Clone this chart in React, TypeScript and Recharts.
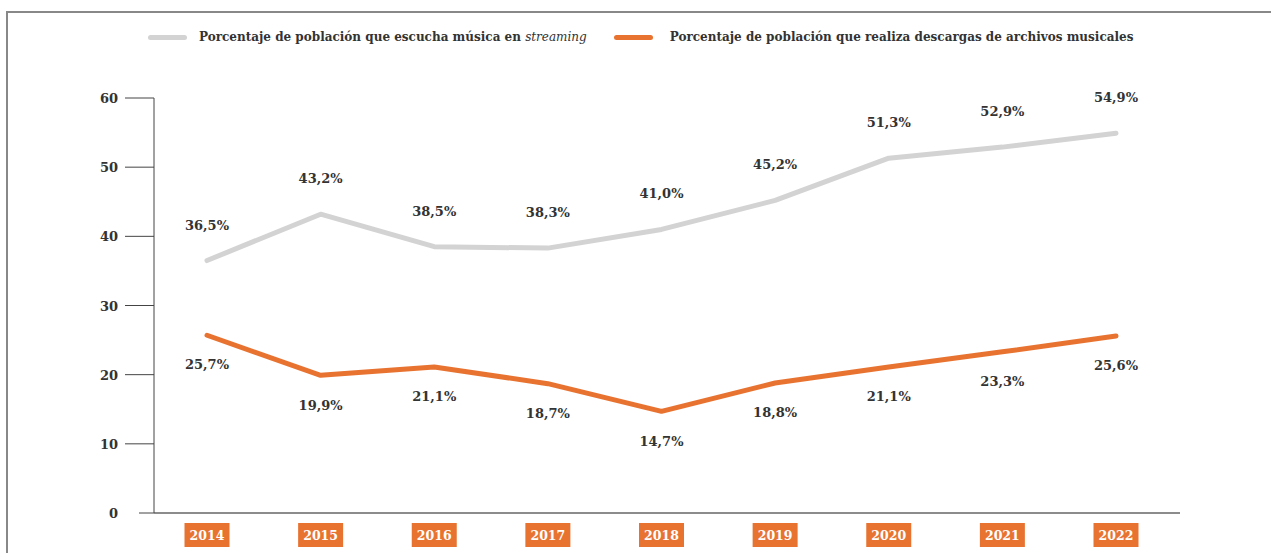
import { LineChart, Line, XAxis, YAxis, Legend, LabelList } from 'recharts';

const years = ['2014', '2015', '2016', '2017', '2018', '2019', '2020', '2021', '2022'];
const streaming = [36.5, 43.2, 38.5, 38.3, 41.0, 45.2, 51.3, 52.9, 54.9];
const descargas = [25.7, 19.9, 21.1, 18.7, 14.7, 18.8, 21.1, 23.3, 25.6];
const yTicks = [0, 10, 20, 30, 40, 50, 60];

const data = years.map((year, i) => ({ year, streaming: streaming[i], descargas: descargas[i] }));

const GRAY = '#d3d3d3';
const ORANGE = '#e87331';
const TEXT = '#333333';
const FONT = '"DejaVu Serif", serif';

const pct = (v: any) => `${Number(v).toFixed(1).replace('.', ',')}%`;

const YTick = (props: any) => {
  const { x, y, payload } = props;
  const axisX = x + 7 + 29;
  return (
    <g>
      <line x1={payload.value === 0 ? axisX - 15 : axisX - 29} x2={axisX} y1={y} y2={y} stroke="#444" strokeWidth={1} />
      <text x={x} y={y} dy={5} textAnchor="end" fontFamily={FONT} fontWeight="bold" fontSize={13} fill={TEXT}>
        {payload.value}
      </text>
    </g>
  );
};

const XTick = (props: any) => {
  const { x, y, payload } = props;
  return (
    <g>
      <rect x={x - 22.5} y={y} width={45} height={24} fill={ORANGE} />
      <text x={x} y={y + 17} textAnchor="middle" fontFamily={FONT} fontWeight="bold" fontSize={12.5} fill="#fff">
        {payload.value}
      </text>
    </g>
  );
};

const LegendContent = () => (
  <div style={{ display: 'flex', alignItems: 'center', fontFamily: FONT, fontWeight: 'bold', fontSize: 12, color: TEXT, paddingLeft: 148, height: 22, whiteSpace: 'nowrap' }}>
    <span style={{ width: 39, height: 5, borderRadius: 3, background: GRAY, marginRight: 12, flexShrink: 0 }} />
    <span>
      Porcentaje de población que escucha música en <i style={{ fontWeight: 'normal' }}>streaming</i>
    </span>
    <span style={{ width: 39, height: 5, borderRadius: 3, background: ORANGE, marginLeft: 27, marginRight: 17, flexShrink: 0 }} />
    <span>Porcentaje de población que realiza descargas de archivos musicales</span>
  </div>
);

export default function App() {
  return (
    <div style={{ position: 'absolute', left: 0, top: 0, width: 1271, height: 553, background: '#fff' }}>
      <div style={{ position: 'absolute', left: 6, top: 11, right: 0, bottom: 0, borderTop: '2px solid #888', borderLeft: '2px solid #888' }} />
      <div style={{ position: 'absolute', left: 0, top: 0 }}>
        <LineChart width={1271} height={553} data={data} margin={{ top: 76, right: 91, bottom: 0, left: 0 }}>
          <Legend verticalAlign="top" content={LegendContent} wrapperStyle={{ top: 26, left: 0, width: 1271 }} />
          <XAxis
            dataKey="year"
            height={40}
            padding={{ left: 53, right: 64 }}
            axisLine={{ stroke: '#666', strokeWidth: 1.5 }}
            tickLine={false}
            tickSize={0}
            tickMargin={10}
            tick={XTick}
            interval={0}
          />
          <YAxis
            width={154}
            domain={[0, 60]}
            ticks={yTicks}
            axisLine={{ stroke: '#444', strokeWidth: 1 }}
            tickLine={false}
            tickSize={29}
            tickMargin={7}
            tick={YTick}
          />
          <Line dataKey="streaming" stroke={GRAY} strokeWidth={5} dot={false} strokeLinecap="round" strokeLinejoin="round" isAnimationActive={false}>
            <LabelList dataKey="streaming" position="top" offset={31} formatter={pct} fontFamily={FONT} fontWeight="bold" fontSize={13} fill={TEXT} />
          </Line>
          <Line dataKey="descargas" stroke={ORANGE} strokeWidth={5} dot={false} strokeLinecap="round" strokeLinejoin="round" isAnimationActive={false}>
            <LabelList dataKey="descargas" position="bottom" offset={25} formatter={pct} fontFamily={FONT} fontWeight="bold" fontSize={13} fill={TEXT} />
          </Line>
        </LineChart>
      </div>
    </div>
  );
}
